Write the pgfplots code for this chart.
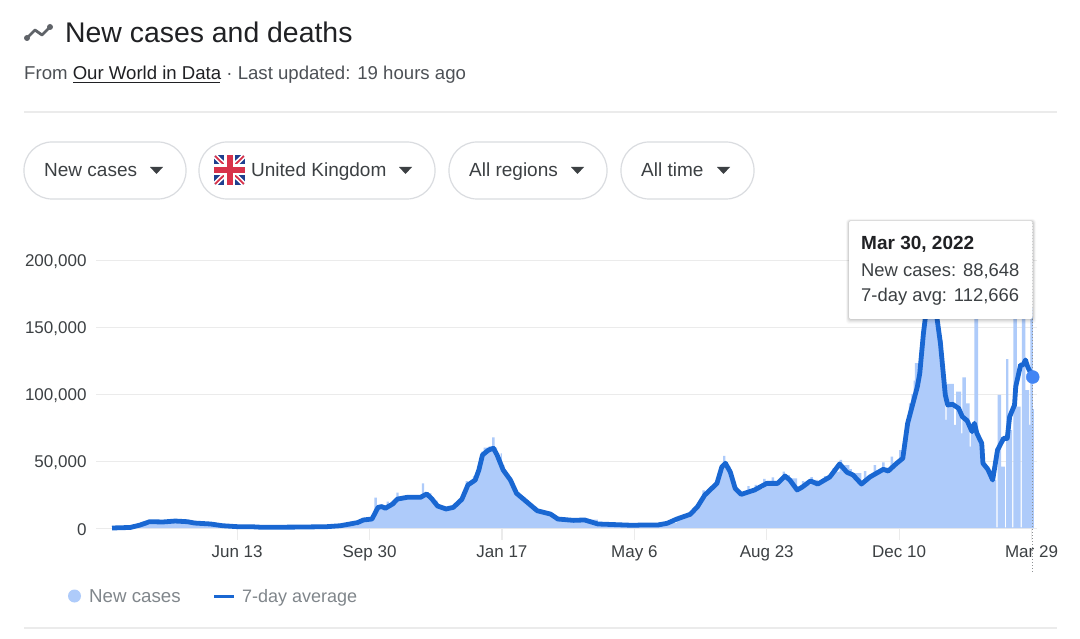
\documentclass[border=0pt]{standalone}
\usepackage{fontspec}
\setmainfont{Liberation Sans}
\usepackage{pgfplots}
\usepackage{pgfplotstable}
\pgfplotsset{compat=1.18}
\definecolor{areac}{HTML}{AECBFA}
\definecolor{linec}{HTML}{1967D2}
\definecolor{dotc}{HTML}{4285F4}
\definecolor{gridc}{HTML}{EBEBEB}
\definecolor{chipc}{HTML}{DADCE0}
\definecolor{titlec}{HTML}{202124}
\definecolor{subc}{HTML}{4D5156}
\definecolor{legc}{HTML}{80868B}
\definecolor{tickc}{HTML}{3C4043}
\definecolor{iconc}{HTML}{5F6368}
\definecolor{ukblue}{HTML}{1F3F8F}
\definecolor{ukred}{HTML}{D8324A}
\newcommand{\fs}[1]{\fontsize{#1}{#1}\selectfont}
\pgfplotstableread{
d v
0 300
15 800
23 2500
31 5000
42 5000
52 5500
62 5000
68 4000
81 3200
91 1900
103 1200
114 1100
124 700
138 800
155 900
177 1200
188 2000
202 4500
207 6300
212 7000
216 22600
218 12000
219 16000
222 17000
226 19700
228 16000
231 18500
234 26400
236 22000
243 23500
254 23500
255 33300
257 26000
259 26000
263 23000
265 20500
268 17500
271 15500
275 14800
281 16000
284 19000
286 22500
288 26000
290 29000
291 35000
293 33000
295 35500
297 38800
299 37000
300 41000
302 47000
303 53300
304 57000
306 60000
310 61000
313 67700
315 60000
317 56000
318 53000
320 55700
321 47000
323 43000
325 40500
327 37500
329 34000
331 29000
333 27000
335 25000
337 23000
340 20500
343 18000
346 16000
350 13500
355 12000
361 10800
364 8500
367 7000
380 6000
389 6200
400 3200
429 2100
435 2300
449 2400
457 3800
465 7200
470 9000
476 11000
479 14000
482 17500
484 21000
486 28000
488 26000
490 29000
493 31000
495 33000
498 35800
500 37000
501 41000
502 47000
503 53900
505 49000
507 46000
509 42000
511 35000
513 30500
515 28500
518 26500
523 31300
525 27000
529 32100
531 29000
536 36600
538 33000
543 37800
545 34500
552 42000
554 39500
558 37000
564 30000
568 35000
570 32000
575 38000
577 36000
581 33500
586 38800
588 37000
593 44500
595 42000
599 50800
601 47000
607 44000
609 41000
617 34000
619 42500
621 38000
627 47000
629 43000
634 49000
636 45000
641 53200
643 47000
646 50000
648 58200
650 52000
652 62000
653 70000
654 77700
656 93000
658 100000
660 110000
661 123000
664 123000
665 135000
667 150000
668 162000
670 175000
672 190000
674 198000
676 192000
678 175000
679 165000
681 148000
682 140000
684 122000
685 112000
686 80600
687 107500
693 76900
695 101700
699 70700
700 112500
703 93000
706 60800
707 76000
710 165000
713 65700
716 60000
718 46000
722 43000
726 36000
728 500
729 99300
732 45800
735 500
736 126100
738 73100
741 500
742 165000
745 90500
748 500
749 165000
752 102900
755 76900
756 165000
758 88648
759 88648
}\casestable
\pgfplotstableread{
d v
0 0
15 400
23 2200
31 4700
42 4500
52 5200
62 4700
68 3700
81 3000
91 1700
103 1000
114 1000
124 500
138 600
155 700
177 1000
188 1700
202 4000
207 6000
214 6700
219 15400
222 16000
225 14700
231 17900
235 21600
243 22900
254 22900
259 25400
263 22100
268 16400
275 14200
281 15400
288 21400
293 32100
299 35800
302 43300
305 54500
310 58200
314 59500
317 54500
322 43300
328 35800
333 25900
338 22100
350 12900
361 10400
367 6700
380 5700
389 6000
400 3000
429 2000
435 2200
449 2200
457 3500
465 6700
476 10200
482 15900
488 24600
498 33300
502 45500
505 48300
509 41800
513 29600
518 25100
529 28400
539 33300
548 33300
554 38800
558 35800
564 28400
568 30400
575 35100
581 32800
591 38100
599 47800
605 41600
610 39600
617 32800
624 38100
635 43800
639 42500
646 48300
651 52000
655 78100
663 105500
665 115500
668 145300
670 160000
675 183000
679 157700
682 137800
686 99300
688 91800
692 92300
697 89300
700 83100
704 80100
708 71900
710 78100
712 70700
716 63200
717 48300
721 43800
725 35800
729 58200
734 66900
737 66900
739 83100
743 91800
744 105500
748 121700
750 121700
752 125400
754 119900
758 112666
}\avgtable
\begin{document}
\begin{tikzpicture}[x=1pt,y=-1pt]
\path[use as bounding box,fill=white] (0,0) rectangle (1080,639);
% header
\draw[iconc,line width=2.8pt,line join=round] (27,38)--(35,30)--(42,35)--(50,27);
\foreach \p in {(27,38),(50,27)} \fill[iconc] \p circle (3);
\node[anchor=base west,inner sep=0,titlec] at (65,43) {\fs{28.4}New cases and deaths};
\node[anchor=base west,inner sep=0,subc] at (24,79.5) {\fs{18.6}From \textcolor{titlec}{Our World in Data} · Last updated: 19 hours ago};
\draw[titlec,line width=0.9pt] (73,82)--(220,82);
\draw[gridc,line width=1.2pt] (24,112)--(1057,112);
% chips
\foreach \a/\b in {24/186,199/435,449/607,621/754}
  \draw[chipc,line width=1.2pt,rounded corners=28pt] (\a,142) rectangle (\b,199);
\foreach \xx/\t in {44/New cases,251/United Kingdom,469/All regions,641/All time}
  \node[anchor=base west,inner sep=0,tickc] at (\xx,176.5) {\fs{19}\t};
\foreach \xx in {150,399,571,717}
  \fill[tickc] (\xx,167)--(\xx+13,167)--(\xx+6.5,174)--cycle;
% flag
\begin{scope}
\clip[rounded corners=3pt] (214,155) rectangle (245,185);
\fill[ukblue] (214,155) rectangle (245,185);
\draw[white,line width=5pt] (214,155)--(245,185) (245,155)--(214,185);
\draw[ukred,line width=1.8pt] (214,155)--(245,185) (245,155)--(214,185);
\fill[white] (224,155) rectangle (235,185);
\fill[white] (214,164.5) rectangle (245,175.5);
\fill[ukred] (226.5,155) rectangle (232.5,185);
\fill[ukred] (214,167) rectangle (245,173);
\end{scope}
% chart
\begin{axis}[
  at={(96pt,-528pt)},anchor=south west,
  scale only axis,width=941pt,height=268pt,
  xmin=-13.2,xmax=761.5,ymin=0,ymax=200000,
  clip=false,
  axis line style={draw=none},
  ymajorgrids,grid style={gridc,line width=1pt},
  scaled y ticks=false,
  ytick={0,50000,100000,150000,200000},
  yticklabels={0,{50,000},{100,000},{150,000},{200,000}},
  xtick={103,212,321,430,539,648,757},
  xticklabels={Jun 13,Sep 30,Jan 17,May 6,Aug 23,Dec 10,Mar 29},
  xtick pos=bottom,ytick pos=left,
  tick align=outside,
  major tick length=12pt,
  xtick style={draw=none},
  ytick style={draw=none},
  tick label style={font=\fs{17},text=tickc},
  yticklabel style={xshift=6pt,yshift=-2pt,anchor=east},
  xticklabel style={anchor=base,yshift=-17pt},
  /pgf/number format/assume math mode=true,
]
\addplot[gridc,line width=1.2pt,ycomb,forget plot] coordinates {(103,-9000)(212,-9000)(321,-9000)(430,-9000)(539,-9000)(648,-9000)(757,-9000)};
\addplot[const plot,fill=areac,draw=none,forget plot] table[x=d,y=v]{\casestable} \closedcycle;
\addplot[linec,line width=4.8pt,line join=round,forget plot] table[x=d,y=v]{\avgtable};
\addplot[iconc!70,dotted,line width=1pt,forget plot] coordinates {(758,-32800)(758,229000)};
\addplot[dotc,only marks,mark=*,mark size=6.5pt,mark options={fill=dotc,draw=dotc},forget plot] coordinates {(758,112666)};
\end{axis}
% tooltip
\foreach \i/\o in {5/0.02,4/0.03,3/0.04,2/0.05,1/0.06}
  \fill[black,opacity=\o,rounded corners=3pt] (849-\i*0.6,221-\i*0.4) rectangle (1033+\i*0.6,319+\i);
\fill[white,rounded corners=2pt] (849,221) rectangle (1032.5,319);
\node[anchor=base west,inner sep=0,titlec] at (861,250) {\fs{19}\bfseries Mar 30, 2022};
\node[anchor=base west,inner sep=0,tickc] at (861,277) {\fs{18.4}New cases: 88,648};
\node[anchor=base west,inner sep=0,tickc] at (861,302) {\fs{18.4}7-day avg: 112,666};
% legend
\fill[areac] (74.5,596) circle (6.5);
\node[anchor=base west,inner sep=0,legc] at (89,602) {\fs{18.7}New cases};
\draw[linec,line width=3pt] (214,596)--(234,596);
\node[anchor=base west,inner sep=0,legc] at (242,602) {\fs{18}7-day average};
\draw[gridc,line width=1.2pt] (24,628)--(1057,628);
\end{tikzpicture}
\end{document}
